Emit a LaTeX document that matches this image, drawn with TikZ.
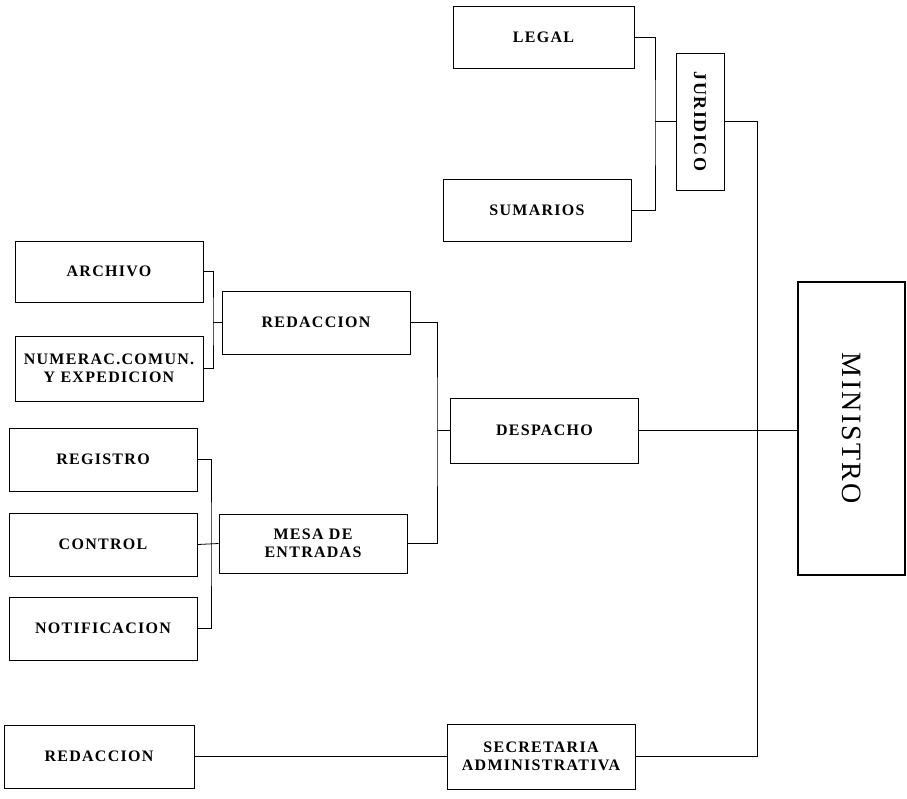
\documentclass[tikz,border=0pt]{standalone}
\usepackage{fontspec}
\setmainfont{Liberation Serif}[LetterSpace=8]

\begin{document}
\begin{tikzpicture}[x=1pt, y=-1pt,
    caja/.style={draw, line width=0.8pt, minimum width=188pt, minimum height=62pt,
        inner sep=0pt, align=center, font=\fontsize{16}{18}\selectfont\bfseries},
    linea/.style={line width=0.8pt}]
    \useasboundingbox (0,0) rectangle (907,798);

    \node[caja, minimum width=181pt] (legal) at (543.5,37) {LEGAL};
    \node[caja] (sumarios) at (537,210) {SUMARIOS};
    \node[caja, minimum width=137pt, minimum height=48pt, rotate=-90,
        font=\fontsize{18}{20}\selectfont\bfseries] (juridico) at (700,121.5) {JURIDICO};

    \node[caja, minimum height=61pt] (archivo) at (109,271.5) {ARCHIVO};
    \node[caja, minimum height=65pt] (numerac) at (109,368.5) {NUMERAC.COMUN.\\Y EXPEDICION};
    \node[caja, minimum height=63pt] (redaccion) at (316,322.5) {REDACCION};
    \node[caja, minimum height=65pt] (despacho) at (544.5,430.5) {DESPACHO};

    \foreach \n/\t/\y in {registro/REGISTRO/459.5, control/CONTROL/544.5, notificacion/NOTIFICACION/628.5}
    {
    \node[caja, minimum height=63pt] (\n) at (103,\y) {\t};
    }
    \node[caja, minimum height=59pt] (mesa) at (313,543.5) {MESA DE\\ENTRADAS};

    \node[caja, line width=2.4pt, minimum width=293pt, minimum height=107pt, rotate=-90,
        font=\fontsize{28}{30}\selectfont] (ministro) at (851.5,428.5) {MINISTRO};

    \node[caja, minimum width=190pt, minimum height=63pt] (redaccionb) at (99,756.5) {REDACCION};
    \node[caja, minimum height=65pt] (secretaria) at (541,756.5) {SECRETARIA\\ADMINISTRATIVA};

    \coordinate (jl) at (655,121.5);
    \coordinate (ja) at (213,322.5);
    \coordinate (jm) at (211,544.5);
    \coordinate (jd) at (437,430.5);
    \coordinate (jv) at (757,430.5);

    \draw[linea] (legal.east) -| (jl) |- (sumarios.east);
    \draw[linea] (jl) -- (juridico.south);
    \draw[linea] (juridico.north) -| (jv) |- (secretaria.east);
    \draw[linea] (archivo.east) -| (ja) |- (numerac.east);
    \draw[linea] (ja) -- (redaccion.west);
    \draw[linea] (registro.east) -| (jm) |- (notificacion.east);
    \draw[linea] (control.east) -- (mesa.west);
    \draw[linea] (redaccion.east) -| (jd) |- (mesa.east);
    \draw[linea] (jd) -- (despacho.west);
    \draw[linea] (despacho.east) -- (despacho.east -| ministro.south);
    \draw[linea] (redaccionb.east) -- (secretaria.west);
\end{tikzpicture}
\end{document}
